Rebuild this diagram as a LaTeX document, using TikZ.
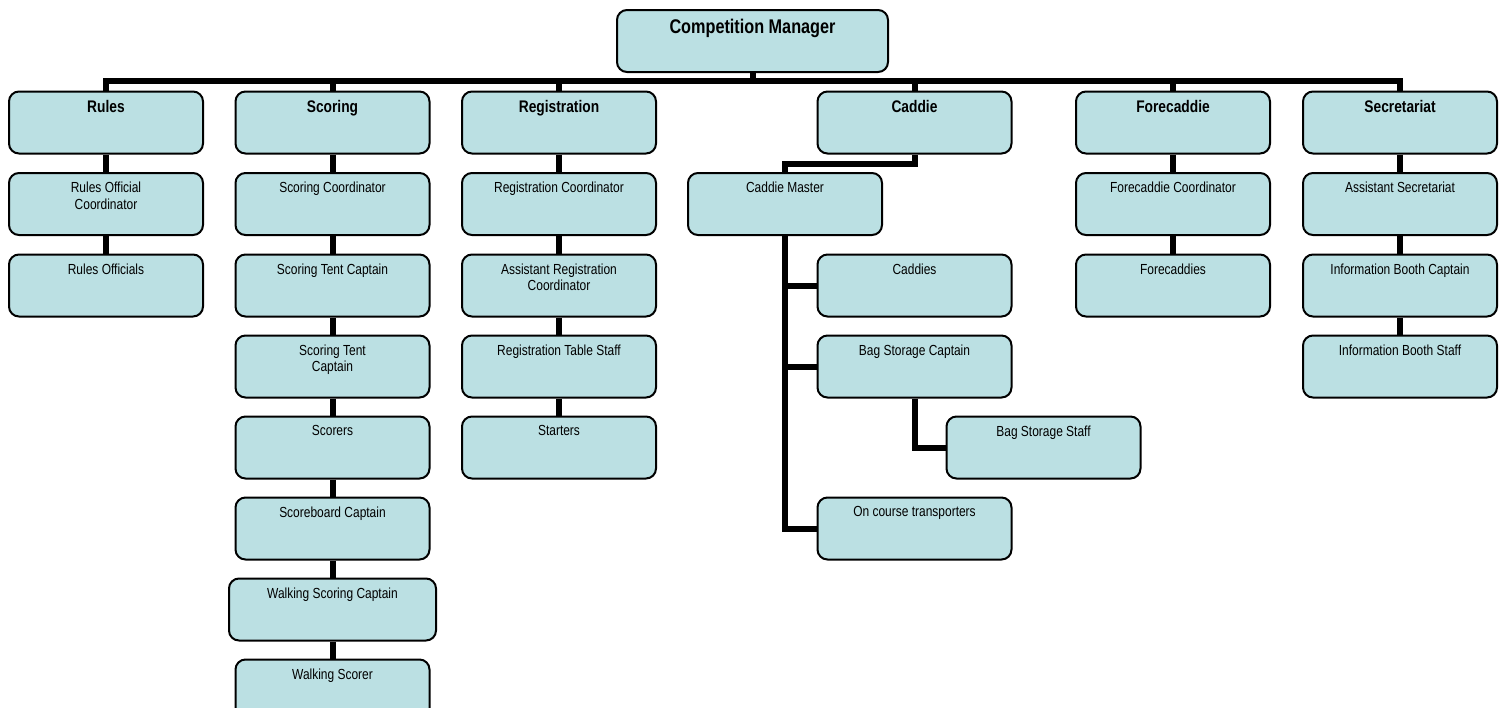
\documentclass[tikz,border=0pt]{standalone}
\usepackage{fontspec}
\setmainfont{Liberation Sans}[FakeStretch=0.82]
\definecolor{cfill}{HTML}{BBE0E3}

\begin{document}
\begin{tikzpicture}[
  x=0.5pt, y=-0.5pt,
  box/.style={draw=black, line width=1pt, rounded corners=5pt, fill=cfill,
              minimum width=97pt, minimum height=31pt, inner sep=0pt,
              font=\fontsize{7.3}{8.4}\selectfont,
              execute at begin node={\begin{minipage}[c][22pt][t]{95pt}\centering},
              execute at end node={\end{minipage}}},
  head/.style={box, font=\fontsize{8.4}{10}\selectfont\bfseries},
  mgr/.style={head, minimum width=135.5pt, font=\fontsize{9.9}{12}\selectfont\bfseries},
  conn/.style={line width=3pt, black},
]
\useasboundingbox (0,0) rectangle (1504,707);

% ---------------- top ----------------
\node[mgr] (cm) at (752.5,41) {Competition Manager};

% ---------------- the six sections ----------------
\node[head] (rul) at (106,122.5)   {Rules};
\node[head] (sco) at (332.5,122.5) {Scoring};
\node[head] (reg) at (559,122.5)   {Registration};
\node[head] (cad) at (914.5,122.5) {Caddie};
\node[head] (fcd) at (1173,122.5)  {Forecaddie};
\node[head] (sec) at (1400,122.5)  {Secretariat};

% ---------------- rules ----------------
\node[box] (rul1) at (106,204)   {Rules Official\\Coordinator};
\node[box] (rul2) at (106,285.5) {Rules Officials};

% ---------------- scoring ----------------
\node[box] (sco1) at (332.5,204)   {Scoring Coordinator};
\node[box] (sco2) at (332.5,285.5) {Scoring Tent Captain};
\node[box] (sco3) at (332.5,366.5) {Scoring Tent\\Captain};
\node[box] (sco4) at (332.5,447.5) {Scorers};
\node[box] (sco5) at (332.5,528.5) {Scoreboard Captain};
\node[box, minimum width=103.5pt] (sco6) at (332.5,609.5) {Walking Scoring Captain};
\node[box] (sco7) at (332.5,690.5) {Walking Scorer};

% ---------------- registration ----------------
\node[box] (reg1) at (559,204)   {Registration Coordinator};
\node[box] (reg2) at (559,285.5) {Assistant Registration\\Coordinator};
\node[box] (reg3) at (559,366.5) {Registration Table Staff};
\node[box] (reg4) at (559,447.5) {Starters};

% ---------------- caddie ----------------
\node[box] (cmr) at (785,204)    {Caddie Master};
\node[box] (cdd) at (914.5,285.5)  {Caddies};
\node[box] (bsc) at (914.5,366.5)  {Bag Storage Captain};
\node[box] (bss) at (1043.5,447.5) {Bag Storage Staff};
\node[box] (oct) at (914.5,528.5)  {On course transporters};

% ---------------- forecaddie ----------------
\node[box] (fcd1) at (1173,204)   {Forecaddie Coordinator};
\node[box] (fcd2) at (1173,285.5) {Forecaddies};

% ---------------- secretariat ----------------
\node[box] (sec1) at (1400,204)   {Assistant Secretariat};
\node[box] (sec2) at (1400,285.5) {Information Booth Captain};
\node[box] (sec3) at (1400,366.5) {Information Booth Staff};

% ---------------- connectors ----------------
\foreach \n in {rul,sco,reg,cad,fcd,sec} \draw[conn] (cm.south) -- ++(0,8) -| (\n.north);
\foreach \a/\b in {rul/rul1, rul1/rul2,
                   sco/sco1, sco1/sco2, sco2/sco3, sco3/sco4, sco4/sco5, sco5/sco6, sco6/sco7,
                   reg/reg1, reg1/reg2, reg2/reg3, reg3/reg4,
                   fcd/fcd1, fcd1/fcd2,
                   sec/sec1, sec1/sec2, sec2/sec3}
  \draw[conn] (\a) -- (\b);
\draw[conn] (cad.south) -- ++(0,9) -| (cmr.north);
\foreach \n in {cdd,bsc,oct} \draw[conn] (cmr.south) |- (\n.west);
\draw[conn] (bsc.south) |- (bss.west);

\end{tikzpicture}
\end{document}
